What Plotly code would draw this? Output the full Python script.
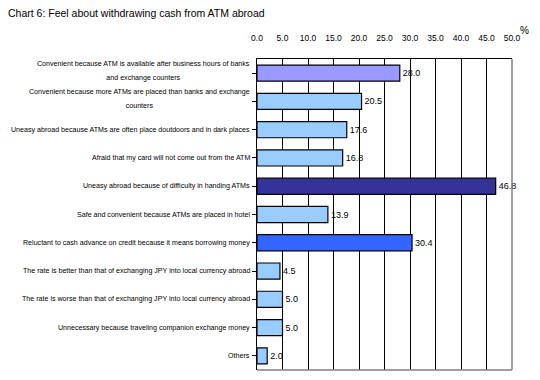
import plotly.graph_objects as go

categories = [
    "Convenient because ATM is available after business hours of banks<br>and exchange counters",
    "Convenient because more ATMs are placed than banks and exchange<br>counters",
    "Uneasy abroad because ATMs are often place doutdoors and in dark places",
    "Afraid that my card will not come out from the ATM",
    "Uneasy abroad because of difficulty in handing ATMs",
    "Safe and convenient because ATMs are placed in hotel",
    "Reluctant to cash advance on credit because it means borrowing money",
    "The rate is better than that of exchanging JPY into local currency abroad",
    "The rate is worse than that of exchanging JPY into local currency abroad",
    "Unnecessary because traveling companion exchange money",
    "Others",
]
values = [28.0, 20.5, 17.6, 16.8, 46.8, 13.9, 30.4, 4.5, 5.0, 5.0, 2.0]
x_ticks = [0, 5, 10, 15, 20, 25, 30, 35, 40, 45, 50]

bar_colors = ["#9999FF", "#99CCFF", "#99CCFF", "#99CCFF", "#333399", "#99CCFF",
              "#3366FF", "#99CCFF", "#99CCFF", "#99CCFF", "#99CCFF"]

FONT = "Liberation Sans, Arial, sans-serif"
LABEL_SIZE = 7.1

ids = list(range(len(categories)))

fig = go.Figure()
fig.add_trace(go.Bar(
    y=ids, x=values, orientation="h",
    marker=dict(color=bar_colors, line=dict(color="black", width=1.2)),
    text=[f"{v:.1f}" for v in values], textposition="outside",
    textfont=dict(family=FONT, size=9, color="black"),
    cliponaxis=False, width=0.57,
))

for i, c in enumerate(categories):
    lines = c.split("<br>")
    if len(lines) > 1:
        # larger base size gives wider line spacing; glyphs stay small via span
        txt = "<br>".join(f"<span style='font-size:{LABEL_SIZE}px'>{ln}</span>" for ln in lines)
        fsize, ysh = 10.8, 2
    else:
        txt, fsize, ysh = c, LABEL_SIZE, 0
    fig.add_annotation(x=0, xref="paper", y=i, yref="y", text=txt, showarrow=False,
                       xanchor="right", yanchor="middle", align="center",
                       xshift=-5, yshift=ysh,
                       font=dict(family=FONT, size=fsize, color="black"))

fig.add_annotation(xref="paper", yref="paper", x=1.05, y=1.0, yshift=29, text="%",
                   showarrow=False, xanchor="center", yanchor="middle",
                   font=dict(family=FONT, size=10, color="black"))

fig.update_layout(
    width=524, height=364,
    margin=dict(l=249, r=20, t=51, b=2),
    paper_bgcolor="white", plot_bgcolor="white",
    showlegend=False,
    title=dict(text="Chart 6: Feel about withdrawing cash from ATM abroad",
               x=0.0, xanchor="left", y=0.985, yanchor="middle",
               font=dict(family=FONT, size=10.5, color="black")),
    xaxis=dict(side="top", range=[0, 50], tickvals=x_ticks,
               ticktext=[f"{t:.1f}" for t in x_ticks],
               showgrid=True, gridcolor="black", gridwidth=1,
               showline=True, linecolor="black", linewidth=1,
               ticks="", ticklabelstandoff=14, zeroline=False,
               tickfont=dict(family=FONT, size=8.5, color="black")),
    yaxis=dict(range=[10.5, -0.5], tickvals=ids, showticklabels=False,
               showgrid=False, zeroline=False,
               showline=True, linecolor="black", linewidth=1,
               ticks="outside", tickson="boundaries", ticklen=4, tickcolor="black"),
    shapes=[
        dict(type="line", xref="paper", yref="paper", x0=1, x1=1, y0=0, y1=1,
             line=dict(color="#808080", width=1.5)),
        dict(type="line", xref="paper", yref="paper", x0=0, x1=1, y0=0, y1=0,
             line=dict(color="#808080", width=1.5)),
    ],
)

fig.write_html("out.html")
